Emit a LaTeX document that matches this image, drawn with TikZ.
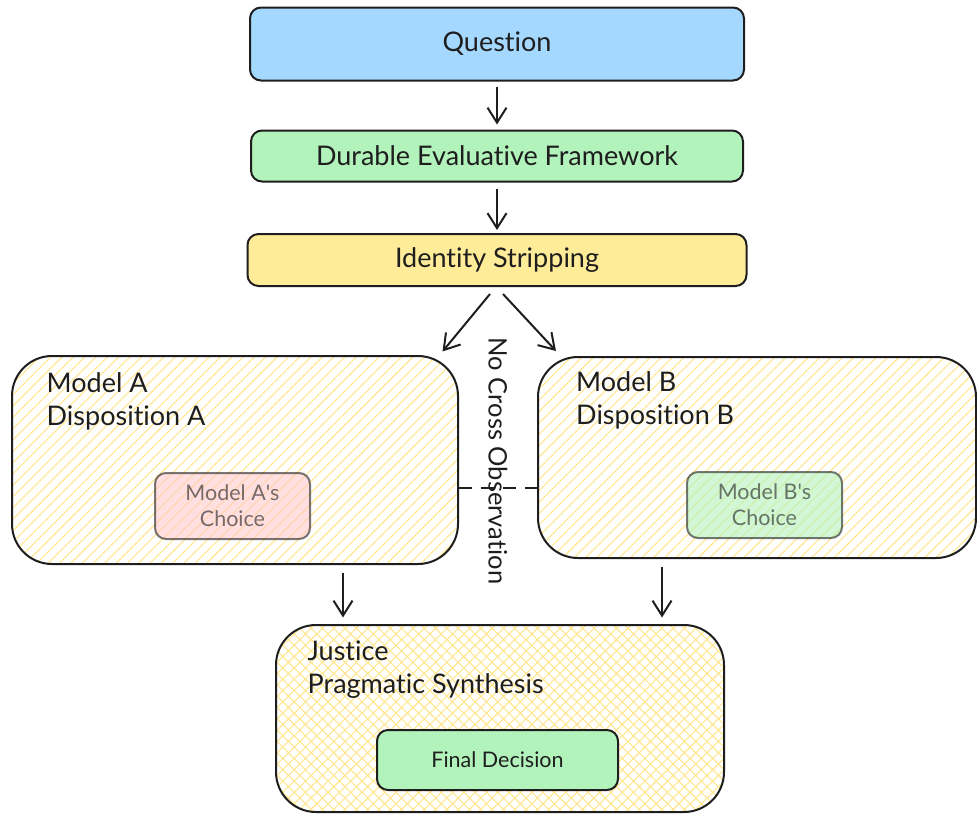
\documentclass[tikz,border=0pt]{standalone}
\usepackage{fontspec}
\setmainfont{Lato}[Ligatures={NoCommon}]
\usetikzlibrary{arrows.meta,
                patterns.meta,
                positioning}

\definecolor{inkgray}{HTML}{1E1E1E}
\definecolor{qblue}{HTML}{A5D8FF}
\definecolor{fwgreen}{HTML}{B2F2BB}
\definecolor{idyellow}{HTML}{FFEC99}
\definecolor{choicered}{HTML}{FFC9C9}
\definecolor{hatchyellow}{HTML}{FFE68F}

\tikzset{
    box/.style={draw=inkgray, line width=2pt, rounded corners=11pt, inner sep=0pt,
                align=center, text=inkgray, font=\fontsize{27}{32}\selectfont},
    choicebox/.style={box, opacity=0.6, font=\fontsize{21.5}{26}\selectfont},
    group/.style={draw=inkgray, line width=2pt, rounded corners=40pt, inner sep=0pt,
                  pattern color=hatchyellow},
    grouplabel/.style={anchor=north west, inner sep=0pt, align=left, text=inkgray,
                       font=\fontsize{27}{33}\selectfont},
    arr/.style={draw=inkgray, line width=2pt, -{Straight Barb[length=15pt,width=19pt]}},
}

\begin{document}
\begin{tikzpicture}[x=1pt, y=-1pt]
    \clip (0,0) rectangle (977,815);

    % main flow
    \node[box, fill=qblue, minimum width=494pt, minimum height=73pt] (q) at (497,44) {Question};
    \node[box, fill=fwgreen, minimum width=492pt, minimum height=51pt] (def) at (497,156) {Durable Evaluative Framework};
    \node[box, fill=idyellow, minimum width=499pt, minimum height=52pt] (ids) at (497,260) {Identity Stripping};

    \draw[arr, shorten <=5pt, shorten >=5pt] (q) -- (def);
    \draw[arr, shorten <=6pt, shorten >=3pt] (def) -- (ids);

    % the two models
    \node[group, pattern={Lines[angle=45,distance=8pt,line width=1.1pt]},
          minimum width=446pt, minimum height=208pt] (ma) at (235,460) {};
    \node[group, pattern={Lines[angle=45,distance=8pt,line width=1.1pt]},
          minimum width=438pt, minimum height=201pt] (mb) at (757,457.5) {};

    \node[grouplabel] (malabel) at ([xshift=35pt,yshift=-17pt]ma.north west) {Model A\\Disposition A};
    \node[grouplabel] (mblabel) at ([xshift=39pt,yshift=-15pt]mb.north west) {Model B\\Disposition B};

    \node[choicebox, fill=choicered, minimum width=155pt, minimum height=66pt] (ca) at (232.5,506) {Model A\textquotesingle s\\Choice};
    \node[choicebox, fill=fwgreen, minimum width=155pt, minimum height=66pt] (cb) at (764.5,505) {Model B\textquotesingle s\\Choice};

    \draw[arr] ([xshift=-7pt,yshift=-7pt]ids.south) -- ([xshift=-16pt,yshift=4pt]ma.north east);
    \draw[arr] ([xshift=6pt,yshift=-7pt]ids.south) -- ([xshift=19pt,yshift=5pt]mb.north west);

    % no peeking
    \draw[inkgray, line width=2pt, dash pattern=on 13pt off 9pt]
        ([yshift=-28pt]ma.east) -- ([yshift=-30.5pt]mb.west);
    \node[rotate=-90, inner sep=0pt, text=inkgray, font=\fontsize{25.5}{30}\selectfont] (nco) at (498,461) {No Cross Observation};

    % synthesis
    \node[group, pattern={Hatch[angle=45,distance=8pt,line width=1.1pt]},
          minimum width=448pt, minimum height=187pt] (js) at (500,718.5) {};
    \node[grouplabel] (jslabel) at ([xshift=32pt,yshift=-16pt]js.north west) {Justice\\Pragmatic Synthesis};
    \node[box, fill=fwgreen, font=\fontsize{21.5}{26}\selectfont, minimum width=241pt, minimum height=60pt] (fd) at (497.5,760) {Final Decision};

    \draw[arr] ([xshift=108pt,yshift=-8pt]ma.south) -- ([xshift=-157pt,yshift=7pt]js.north);
    \draw[arr] ([xshift=-95pt,yshift=-8pt]mb.south) -- ([xshift=162pt,yshift=7pt]js.north);
\end{tikzpicture}
\end{document}
